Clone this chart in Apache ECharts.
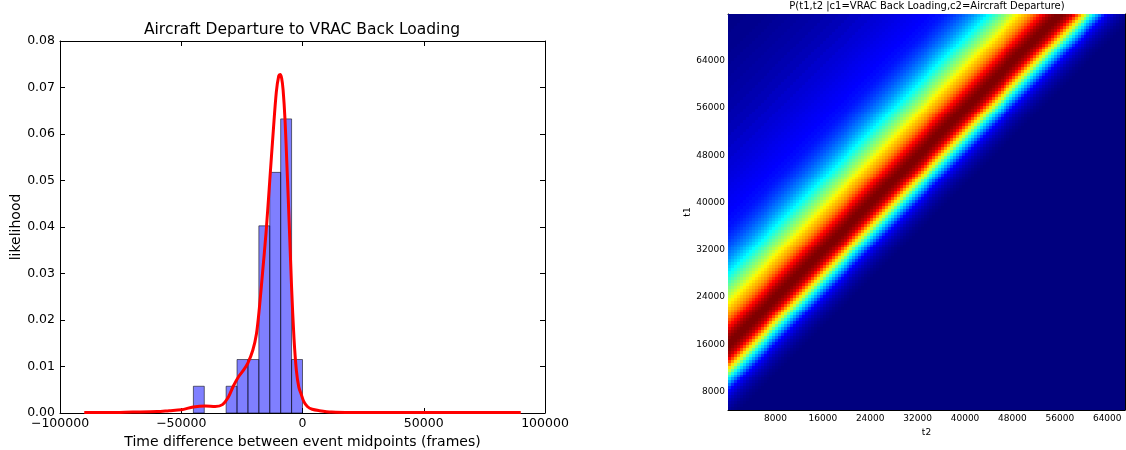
<!DOCTYPE html>
<html>
<head>
<meta charset="utf-8">
<script src="https://cdn.jsdelivr.net/npm/echarts@6/dist/echarts.min.js"></script>
<style>
  html, body { margin: 0; padding: 0; background: #fff; }
  #chart { width: 1126px; height: 450px; }
</style>
</head>
<body>
<div id="chart"></div>
<script>
// histogram bins (frames) and heights
const binStart = [-45000, -31500, -27000, -22500, -18000, -13500, -9000, -4500]
const binEnd = [-40500, -27000, -22500, -18000, -13500, -9000, -4500, 0]
const binHeight = [0.00575, 0.00575, 0.0115, 0.0115, 0.04025, 0.05175, 0.06325, 0.0115]

// red density curve
const kdeX = [-90000, -80000, -70000, -60000, -55000, -50000, -45000, -40000, -36000, -33000,
  -30500, -28500, -26500, -24500, -22500, -20500, -19000, -17800, -16500, -15000,
  -13500, -12000, -10800, -9800, -9200, -8600, -8000, -7200, -6400, -5500,
  -4500, -3500, -2500, -1500, -500, 500, 2000, 4000, 7000, 12000,
  20000, 35000, 50000, 70000, 90000]
const kdeY = [0.0001, 0.0001, 0.0002, 0.0003, 0.0005, 0.0007, 0.0013, 0.0015, 0.0014, 0.0018,
  0.0035, 0.0058, 0.0077, 0.0091, 0.0108, 0.0135, 0.0170, 0.0225, 0.0300, 0.0390,
  0.0500, 0.0610, 0.0690, 0.0725, 0.0728, 0.0720, 0.0695, 0.0630, 0.0530, 0.0410,
  0.0270, 0.0160, 0.0090, 0.0055, 0.0040, 0.0025, 0.0014, 0.0008, 0.0005, 0.0002,
  0.0001, 0.0001, 0.0001, 0.0001, 0.0001]

// heatmap: level across the diagonal, by offset of (t1 - t2) from the ridge
const ridgeLag = 15900
const lagOffsets = [-13000, -12500, -12000, -11500, -11000, -10500,
  -10000, -9500, -9000, -8500, -8000, -7500, -7000, -6500, -6000, -5500,
  -5000, -4500, -4000, -3500, -3000, -2500, -2000, -1500, -1000, -500,
  0, 500, 1000, 1500, 2000, 2500, 3000, 3500, 4000, 4500,
  5000, 5500, 6000, 6500, 7000, 7500, 8000, 8500, 9000, 9500,
  10000, 10500, 11000, 11500, 12000, 12500, 13000, 13500, 14000, 14500,
  15000, 15500, 16000, 16500, 17000, 17500, 18000, 18500, 19000, 19500,
  20000, 21000, 22000, 23000, 24000, 25000, 26000, 27000, 28000, 29000,
  30000, 32000, 34000, 36000, 38000, 40000, 42000, 44000, 46000, 48000,
  50000, 55000, 60000, 70000]
const lagLevels = [0, 0.005, 0.01, 0.015, 0.025, 0.035,
  0.045, 0.06, 0.08, 0.10, 0.125, 0.17, 0.235, 0.29, 0.345, 0.41,
  0.49, 0.57, 0.65, 0.72, 0.80, 0.87, 0.93, 0.96, 0.985, 1.0,
  1.0, 1.0, 0.985, 0.965, 0.94, 0.90, 0.87, 0.83, 0.79, 0.755,
  0.725, 0.70, 0.68, 0.655, 0.635, 0.60, 0.57, 0.545, 0.52, 0.495,
  0.47, 0.445, 0.42, 0.395, 0.375, 0.35, 0.33, 0.31, 0.29, 0.27,
  0.255, 0.24, 0.225, 0.21, 0.20, 0.185, 0.175, 0.165, 0.155, 0.148,
  0.14, 0.132, 0.125, 0.12, 0.115, 0.11, 0.105, 0.10, 0.095, 0.09,
  0.085, 0.075, 0.065, 0.055, 0.048, 0.04, 0.035, 0.03, 0.025, 0.02,
  0.015, 0.01, 0.005, 0]

const heatTicks = [8000, 16000, 24000, 32000, 40000, 48000, 56000, 64000]
const t2Range = [0, 67000]
const t1Range = [4900, 71900]
const cellStep = 500

const jet = ['#00007f', '#0000ff', '#007fff', '#00ffff', '#7fff7f', '#ffff00', '#ff7f00', '#ff0000', '#7f0000']

const levelAt = (d) => {
  if (d < lagOffsets[0] || d > lagOffsets[lagOffsets.length - 1]) return 0
  let best = 0
  for (let i = 1; i < lagOffsets.length; i++) {
    if (Math.abs(lagOffsets[i] - d) < Math.abs(lagOffsets[best] - d)) best = i
  }
  return lagLevels[best]
}

const heatData = []
for (let t2 = t2Range[0] + cellStep / 2; t2 < t2Range[1]; t2 += cellStep) {
  for (let t1 = t1Range[0] + cellStep / 2; t1 < t1Range[1]; t1 += cellStep) {
    heatData.push([t2, t1, levelAt(t1 - t2 - ridgeLag)])
  }
}

const font = 'DejaVu Sans'
const minus = (v) => String(v).replace('-', '\u2212')

const boxAxis = (extra) => Object.assign({
  type: 'value',
  axisLine: { show: true, onZero: false, lineStyle: { color: '#000', width: 1 } },
  axisTick: { show: true, inside: true, length: 5, lineStyle: { color: '#000' } },
  splitLine: { show: false },
  axisLabel: { show: false }
}, extra)

const heatTick = { show: true, inside: true, length: 4, lineStyle: { color: '#000' }, customValues: heatTicks }

const chart = echarts.init(document.getElementById('chart'))

chart.setOption({
  animation: false,
  textStyle: { fontFamily: font },
  title: [
    {
      text: 'Aircraft Departure to VRAC Back Loading',
      left: 302, top: 22, padding: 0, textAlign: 'center',
      textStyle: { fontFamily: font, fontSize: 15.5, fontWeight: 'normal', color: '#000' }
    },
    {
      text: 'P(t1,t2 |c1=VRAC Back Loading,c2=Aircraft Departure)',
      left: 927, top: 1, padding: 0, textAlign: 'center',
      textStyle: { fontFamily: font, fontSize: 10, fontWeight: 'normal', color: '#000' }
    }
  ],
  grid: [
    { left: 60, right: 581, top: 41, bottom: 37, outerBoundsMode: 'none' },
    { left: 728, right: 1, top: 14, bottom: 40, outerBoundsMode: 'none' }
  ],
  xAxis: [
    boxAxis({
      gridIndex: 0, position: 'bottom', min: -100000, max: 100000, interval: 50000,
      name: 'Time difference between event midpoints (frames)',
      nameLocation: 'middle', nameGap: 18,
      nameTextStyle: { fontFamily: font, fontSize: 14, color: '#000' },
      axisLabel: { show: true, fontSize: 12.5, color: '#000', margin: 4, formatter: minus }
    }),
    boxAxis({ gridIndex: 0, position: 'top', min: -100000, max: 100000, interval: 50000 }),
    boxAxis({
      gridIndex: 1, position: 'bottom', min: t2Range[0], max: t2Range[1],
      name: 't2', nameLocation: 'middle', nameGap: 12,
      nameTextStyle: { fontFamily: font, fontSize: 9, color: '#000' },
      axisTick: heatTick,
      axisLabel: { show: true, fontSize: 9, color: '#000', margin: 4, customValues: heatTicks, formatter: (v) => String(v) }
    }),
    boxAxis({
      gridIndex: 1, position: 'top', min: t2Range[0], max: t2Range[1],
      axisTick: heatTick
    })
  ],
  yAxis: [
    boxAxis({
      gridIndex: 0, position: 'left', min: 0, max: 0.08, interval: 0.01,
      name: 'likelihood', nameLocation: 'middle', nameGap: 35,
      nameTextStyle: { fontFamily: font, fontSize: 14, color: '#000' },
      axisLabel: { show: true, fontSize: 12.5, color: '#000', margin: 5, formatter: (v) => v.toFixed(2) }
    }),
    boxAxis({ gridIndex: 0, position: 'right', min: 0, max: 0.08, interval: 0.01 }),
    boxAxis({
      gridIndex: 1, position: 'left', min: t1Range[0], max: t1Range[1],
      name: 't1', nameLocation: 'middle', nameGap: 31,
      nameTextStyle: { fontFamily: font, fontSize: 9, color: '#000' },
      axisTick: heatTick,
      axisLabel: { show: true, fontSize: 9, color: '#000', margin: 3, customValues: heatTicks, formatter: (v) => String(v) }
    }),
    boxAxis({
      gridIndex: 1, position: 'right', min: t1Range[0], max: t1Range[1],
      axisTick: heatTick
    })
  ],
  visualMap: {
    show: false,
    seriesIndex: 2,
    dimension: 2,
    min: 0,
    max: 1,
    inRange: { color: jet }
  },
  series: [
    {
      type: 'custom',
      xAxisIndex: 0,
      yAxisIndex: 0,
      encode: { x: [0, 1], y: 2 },
      data: binStart.map((s, i) => [s, binEnd[i], binHeight[i]]),
      renderItem: (params, api) => {
        const p0 = api.coord([api.value(0), api.value(2)])
        const p1 = api.coord([api.value(1), 0])
        return {
          type: 'rect',
          shape: { x: p0[0], y: p0[1], width: p1[0] - p0[0], height: p1[1] - p0[1] },
          style: { fill: 'rgba(0,0,255,0.5)', stroke: 'rgba(0,0,0,0.55)', lineWidth: 1 }
        }
      }
    },
    {
      type: 'line',
      xAxisIndex: 0,
      yAxisIndex: 0,
      data: kdeX.map((x, i) => [x, kdeY[i]]),
      smooth: 0.3,
      showSymbol: false,
      lineStyle: { color: '#ff0000', width: 3 },
      z: 3
    },
    {
      type: 'custom',
      xAxisIndex: 2,
      yAxisIndex: 2,
      clip: true,
      dimensions: ['t2', 't1', 'level'],
      encode: { x: 0, y: 1 },
      data: heatData,
      renderItem: (params, api) => {
        const h = cellStep / 2
        const p0 = api.coord([api.value(0) - h, api.value(1) + h])
        const p1 = api.coord([api.value(0) + h, api.value(1) - h])
        // snap to whole pixels so neighbouring cells leave no seams
        const x0 = Math.round(p0[0]), y0 = Math.round(p0[1])
        const x1 = Math.round(p1[0]), y1 = Math.round(p1[1])
        return {
          type: 'rect',
          shape: { x: x0, y: y0, width: x1 - x0, height: y1 - y0 },
          style: { fill: api.visual('color') }
        }
      }
    }
  ]
})
</script>
</body>
</html>
